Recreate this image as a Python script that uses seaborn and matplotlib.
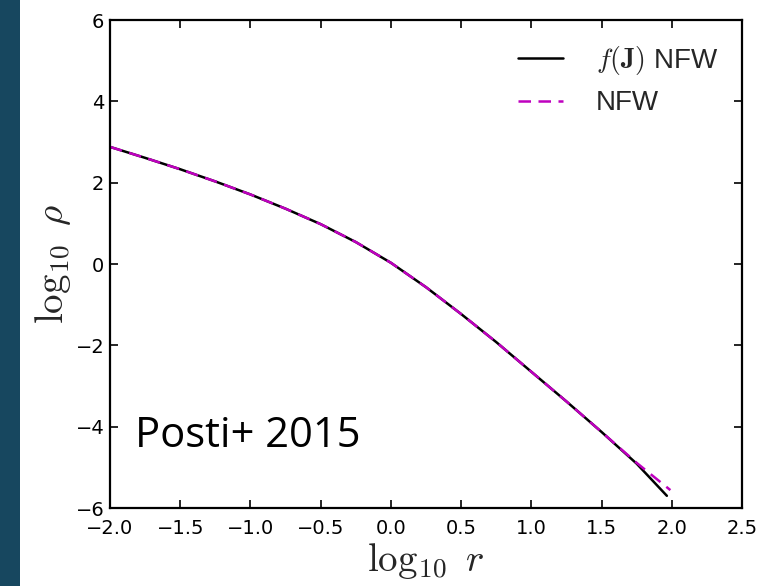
import matplotlib
matplotlib.use("Agg")
import matplotlib.pyplot as plt
from matplotlib.patches import Rectangle
import seaborn as sns
import pandas as pd

# ---- data ----
log_r_fj = [-2.0, -1.75, -1.5, -1.25, -1.0, -0.75, -0.5, -0.25, 0.0, 0.25,
            0.5, 0.75, 1.0, 1.25, 1.5, 1.75, 1.965]
log_rho_fj = [2.88, 2.61, 2.33, 2.03, 1.71, 1.36, 0.98, 0.54, 0.03, -0.57,
              -1.23, -1.92, -2.65, -3.38, -4.13, -4.91, -5.70]
log_r_nfw = [-2.0, -1.75, -1.5, -1.25, -1.0, -0.75, -0.5, -0.25, 0.0, 0.25,
             0.5, 0.75, 1.0, 1.25, 1.5, 1.75, 1.99]
log_rho_nfw = [2.88, 2.61, 2.33, 2.03, 1.71, 1.36, 0.98, 0.54, 0.03, -0.57,
               -1.23, -1.92, -2.65, -3.38, -4.13, -4.89, -5.56]
series_labels = [r"$f(\mathbf{J})$ NFW", "NFW"]
x_ticks = [-2.0, -1.5, -1.0, -0.5, 0.0, 0.5, 1.0, 1.5, 2.0, 2.5]
y_ticks = [-6, -4, -2, 0, 2, 4, 6]
annotation = "Posti+ 2015"

df_fj = pd.DataFrame({"x": log_r_fj, "y": log_rho_fj})
df_nfw = pd.DataFrame({"x": log_r_nfw, "y": log_rho_nfw})

sns.set_style("ticks")
plt.rcParams["font.family"] = ["DejaVu Sans"]
plt.rcParams["mathtext.fontset"] = "cm"

fig = plt.figure(figsize=(7.66, 5.86), dpi=100)
fig.patch.set_facecolor("white")
ax = fig.add_axes([110 / 766, 1 - 508 / 586, (742 - 110) / 766, (508 - 20) / 586])

# dark strip on the left edge
fig.patches.append(Rectangle((0, 0), 20 / 766, 1, transform=fig.transFigure,
                             facecolor="#17475f", edgecolor="none", zorder=0))

sns.lineplot(data=df_fj, x="x", y="y", ax=ax, color="black", linewidth=1.8,
             label=series_labels[0], sort=False, estimator=None)
sns.lineplot(data=df_nfw, x="x", y="y", ax=ax, color=(0.75, 0, 0.75),
             linewidth=1.8, linestyle="--", dashes=False, label=series_labels[1],
             sort=False, estimator=None)
ax.lines[1].set_linestyle((0, (5, 3)))

ax.set_xlim(-2.0, 2.5)
ax.set_ylim(-6, 6)
ax.set_xticks(x_ticks)
ax.set_yticks(y_ticks)
ax.set_xticklabels([f"{t:.1f}".replace("-", "\u2212") for t in x_ticks])
ax.set_yticklabels([f"{t}".replace("-", "\u2212") for t in y_ticks])
ax.tick_params(direction="in", top=True, right=True, length=6, width=1.2,
               labelsize=14, colors="black")
ax.tick_params(axis="x", pad=8)
ax.tick_params(axis="y", pad=4)
for s in ax.spines.values():
    s.set_linewidth(1.6)
    s.set_color("black")

ax.set_xlabel(r"$\log_{10}\ r$", fontsize=28, labelpad=2)
ax.set_ylabel(r"$\log_{10}\ \rho$", fontsize=28, labelpad=2)

leg = ax.legend(loc="upper right", frameon=False,
                prop={"family": "Liberation Sans", "size": 20},
                handlelength=1.6, handletextpad=1.2, labelspacing=0.5,
                borderaxespad=0.45)
for h in leg.get_lines():
    h.set_linewidth(1.8)

ax.text(0.04, 0.125, annotation, transform=ax.transAxes, fontsize=30,
        family="Open Sans", va="baseline", ha="left", color="black")

fig.savefig("out.png", dpi=100)
